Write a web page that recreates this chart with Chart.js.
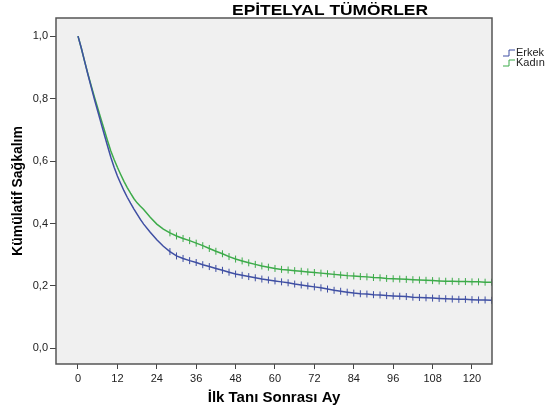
<!DOCTYPE html>
<html>
<head>
<meta charset="utf-8">
<script src="https://cdn.jsdelivr.net/npm/chart.js@4/dist/chart.umd.min.js"></script>
<style>
  html, body { margin: 0; background: #fff; }
  #wrap { width: 552px; height: 413px; }
</style>
</head>
<body>
<div id="wrap"><canvas id="kmChart"></canvas></div>
<script>
// Kaplan-Meier eğrileri: cinsiyete göre kümülatif sağkalım
const months = [
  0, 1, 2, 3, 4, 5, 6, 7, 8, 9, 10, 11, 12, 13, 14, 15, 16, 17, 18, 19, 20,
  22, 24, 26,
  28, 30, 32, 34, 36, 38, 40, 42, 44, 46, 48, 50, 52, 54, 56, 58, 60, 62, 64, 66,
  68, 70, 72, 74, 76, 78, 80, 82, 84, 86, 88, 90, 92, 94, 96, 98, 100, 102, 104,
  106, 108, 110, 112, 114, 116, 118, 120, 122, 124, 126
];

const erkek = [
  1.0, .962, .92, .878, .838, .798, .76, .722, .685, .648, .612, .58, .552, .528, .505, .484, .465, .447, .43, .413, .398,
  .372, .348, .327,
  .310, .296, .288, .281, .275, .268, .262, .256, .250, .244, .238, .234, .230, .226, .222, .219, .216, .213, .210, .206,
  .203, .200, .197, .194, .190, .186, .183, .180, .177, .175, .174, .172, .171, .169, .168, .167, .166, .164, .163,
  .162, .161, .160, .159, .158, .157, .157, .156, .155, .155, .154
];

const kadin = [
  1.0, .962, .92, .88, .842, .805, .77, .735, .70, .665, .632, .605, .58, .557, .535, .515, .497, .48, .466, .455, .445,
  .42, .398, .382,
  .370, .360, .352, .345, .337, .329, .320, .311, .303, .294, .286, .280, .274, .269, .264, .260, .256, .253, .251, .249,
  .247, .245, .243, .241, .239, .237, .235, .233, .232, .230, .229, .227, .226, .224, .223, .222, .221, .220, .219,
  .218, .217, .216, .215, .215, .214, .214, .213, .213, .212, .212
];

const xTicks = [0, 12, 24, 36, 48, 60, 72, 84, 96, 108, 120];
const yTicks = [0, 0.2, 0.4, 0.6, 0.8, 1.0];

const censorFrom = 28;
const font = '"Liberation Sans", Arial, sans-serif';
Chart.defaults.font.family = font;

function series(vals) {
  return months.map((m, i) => ({ x: m, y: vals[i] }));
}

// gri çizim alanı, çerçeve, başlık ve lejant
const plotFrame = {
  id: 'plotFrame',
  beforeDraw(chart) {
    const { ctx, chartArea: a } = chart;
    ctx.save();
    ctx.fillStyle = '#f0f0f0';
    ctx.fillRect(a.left, a.top, a.right - a.left, a.bottom - a.top);
    ctx.restore();
  },
  afterDraw(chart) {
    const { ctx, chartArea: a } = chart;
    ctx.save();
    ctx.strokeStyle = '#555';
    ctx.lineWidth = 1.5;
    ctx.strokeRect(a.left, a.top, a.right - a.left, a.bottom - a.top);

    // başlık (yatayda biraz geniş)
    ctx.save();
    ctx.translate(330, 11);
    ctx.scale(1.16, 1);
    ctx.fillStyle = '#000';
    ctx.font = 'bold 15px ' + font;
    ctx.textAlign = 'center';
    ctx.textBaseline = 'middle';
    ctx.fillText('EPİTELYAL TÜMÖRLER', 0, 0);
    ctx.restore();

    // lejant: basamak simgesi + etiket
    ctx.font = '11px ' + font;
    ctx.textAlign = 'left';
    ctx.textBaseline = 'middle';
    chart.data.datasets.forEach((ds, i) => {
      const y = 53 + i * 10;
      ctx.strokeStyle = ds.borderColor;
      ctx.lineWidth = 1;
      ctx.beginPath();
      ctx.moveTo(503, y + 3);
      ctx.lineTo(509, y + 3);
      ctx.lineTo(509, y - 3);
      ctx.lineTo(515, y - 3);
      ctx.stroke();
      ctx.fillStyle = '#222';
      ctx.fillText(ds.label, 516, y);
    });
    ctx.restore();
  }
};

function lineSet(label, vals, color) {
  return {
    label: label,
    data: series(vals),
    borderColor: color,
    backgroundColor: color,
    borderWidth: 1.5,
    tension: 0,
    pointStyle: 'line',
    rotation: 90,
    pointBorderWidth: 1,
    pointRadius: ctx => (ctx.raw && ctx.raw.x >= censorFrom ? 3.5 : 0),
    pointHoverRadius: 0
  };
}

new Chart(document.getElementById('kmChart'), {
  type: 'line',
  data: {
    datasets: [
      lineSet('Erkek', erkek, '#3f4fa3'),
      lineSet('Kadın', kadin, '#3dab4a')
    ]
  },
  options: {
    responsive: true,
    maintainAspectRatio: false,
    animation: false,
    layout: { padding: { top: 18, right: 60, left: 0, bottom: 0 } },
    plugins: {
      legend: { display: false },
      tooltip: { enabled: false }
    },
    scales: {
      x: {
        type: 'linear',
        min: -6.7,
        max: 126.1,
        afterBuildTicks: s => { s.ticks = xTicks.map(v => ({ value: v })); },
        afterFit: s => { s.height = 49; },
        ticks: { autoSkip: false, maxRotation: 0, color: '#222', font: { size: 11 }, padding: 3 },
        grid: { drawOnChartArea: false, drawTicks: true, tickLength: 5, color: '#444' },
        border: { display: false },
        title: {
          display: true,
          text: 'İlk Tanı Sonrası Ay',
          color: '#000',
          font: { size: 15, weight: 'bold' },
          padding: { top: 0, bottom: 6 }
        }
      },
      y: {
        min: -0.05,
        max: 1.058,
        afterBuildTicks: s => { s.ticks = yTicks.map(v => ({ value: v })); },
        afterFit: s => { s.width = 56; },
        ticks: {
          autoSkip: false,
          color: '#222',
          font: { size: 11 },
          padding: 2,
          callback: v => v.toFixed(1).replace('.', ',')
        },
        grid: { drawOnChartArea: false, drawTicks: true, tickLength: 6, color: '#444' },
        border: { display: false },
        title: {
          display: true,
          text: 'Kümülatif Sağkalım',
          color: '#000',
          font: { size: 14, weight: 'bold' },
          padding: { top: 10, bottom: 0 }
        }
      }
    }
  },
  plugins: [plotFrame]
});
</script>
</body>
</html>
